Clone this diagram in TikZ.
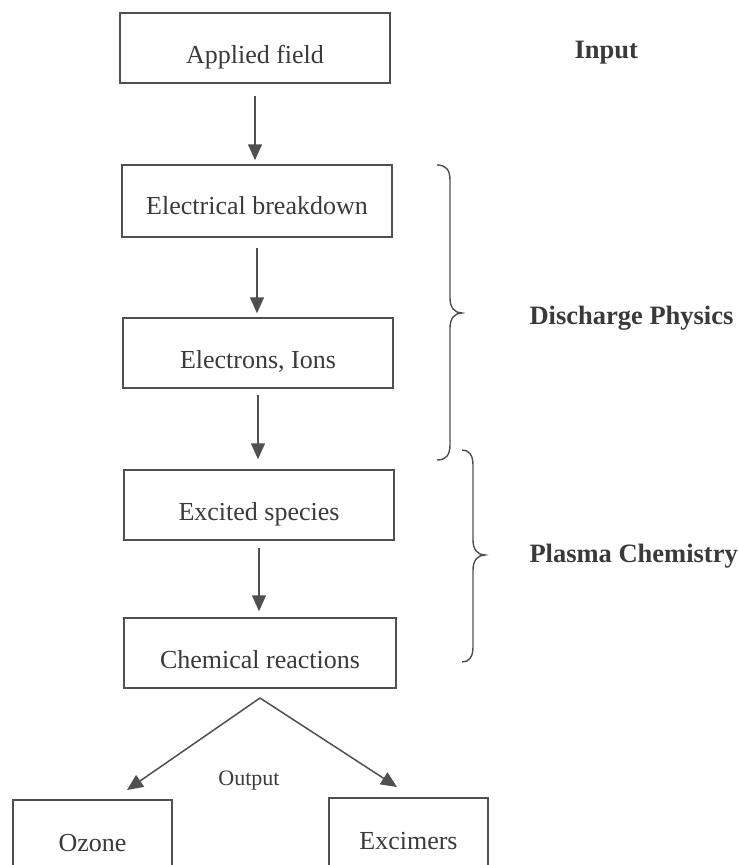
\documentclass[tikz,border=0pt]{standalone}
\usepackage{fontspec}
\setmainfont{Liberation Serif}
\usetikzlibrary{arrows.meta}
\definecolor{ink}{HTML}{3A3A3A}
\definecolor{linegray}{HTML}{505050}
\tikzset{
  flowbox/.style={draw=linegray, line width=1.5pt, minimum width=270pt, minimum height=70pt, inner sep=0pt, text height=30pt, text depth=0pt, text=ink, font=\fontsize{26}{30}\selectfont},
  endbox/.style={draw=linegray, line width=1.5pt, minimum width=159pt, minimum height=86pt, inner sep=0pt, text=ink, font=\fontsize{26}{30}\selectfont},
  flowarrow/.style={draw=linegray, line width=1.5pt, -{Triangle[length=16pt,width=14pt]}},
  sidelabel/.style={text=ink, font=\bfseries\fontsize{26.5}{30}\selectfont, anchor=west},
  bracestyle/.style={draw=linegray, line width=1.4pt},
}
\begin{document}
\begin{tikzpicture}[x=1pt,y=-1pt]
\useasboundingbox (0,0) rectangle (739,865);
\fill[white] (0,0) rectangle (739,865);
\clip (0,0) rectangle (739,865);
% boxes
\node[flowbox] (b1) at (255,48) {Applied field};
\node[flowbox, minimum height=72pt, text height=26pt] (b2) at (257,201) {Electrical breakdown};
\node[flowbox] (b3) at (258,353) {Electrons, Ions};
\node[flowbox] (b4) at (259,505) {Excited species};
\node[flowbox, minimum width=272pt] (b5) at (260,653) {Chemical reactions};
\node[endbox] (oz) at (92.5,843) {Ozone};
\node[endbox] (ex) at (408.5,841) {Excimers};
% arrows
\draw[flowarrow, shorten <=12pt, shorten >=4pt] (b1.south) -- (b1.south |- b2.north);
\draw[flowarrow, shorten <=10pt, shorten >=4pt] (b2.south) -- (b2.south |- b3.north);
\draw[flowarrow, shorten <=6pt, shorten >=10pt] (b3.south) -- (b3.south |- b4.north);
\draw[flowarrow, shorten <=7pt, shorten >=6pt] (b4.south) -- (b4.south |- b5.north);
\coordinate (apex) at (260,698);
\coordinate (ozin) at (127,790);
\coordinate (exin) at (397,787);
\draw[flowarrow] (apex) -- (ozin);
\draw[flowarrow] (apex) -- (exin);
\node[text=ink, font=\fontsize{22}{25}\selectfont] (out) at (249,781) {Output};
% braces
\draw[bracestyle] (437,165) .. controls (446,165) and (450,170) .. (450,180) -- (450,298)
  .. controls (450,308) and (455,313) .. (462,313)
  .. controls (455,313) and (450,318) .. (450,328) -- (450,445)
  .. controls (450,455) and (446,460) .. (437,460);
\draw[bracestyle] (462,450) .. controls (469,450) and (473,455) .. (473,465) -- (473,540)
  .. controls (473,550) and (478,555) .. (485,555)
  .. controls (478,555) and (473,560) .. (473,570) -- (473,647)
  .. controls (473,657) and (469,662) .. (462,662);
% labels
\node[sidelabel] (lin) at (571,53) {Input};
\node[sidelabel] (ldp) at (526,318) {Discharge Physics};
\node[sidelabel] (lpc) at (526,556) {Plasma Chemistry};
\end{tikzpicture}
\end{document}
